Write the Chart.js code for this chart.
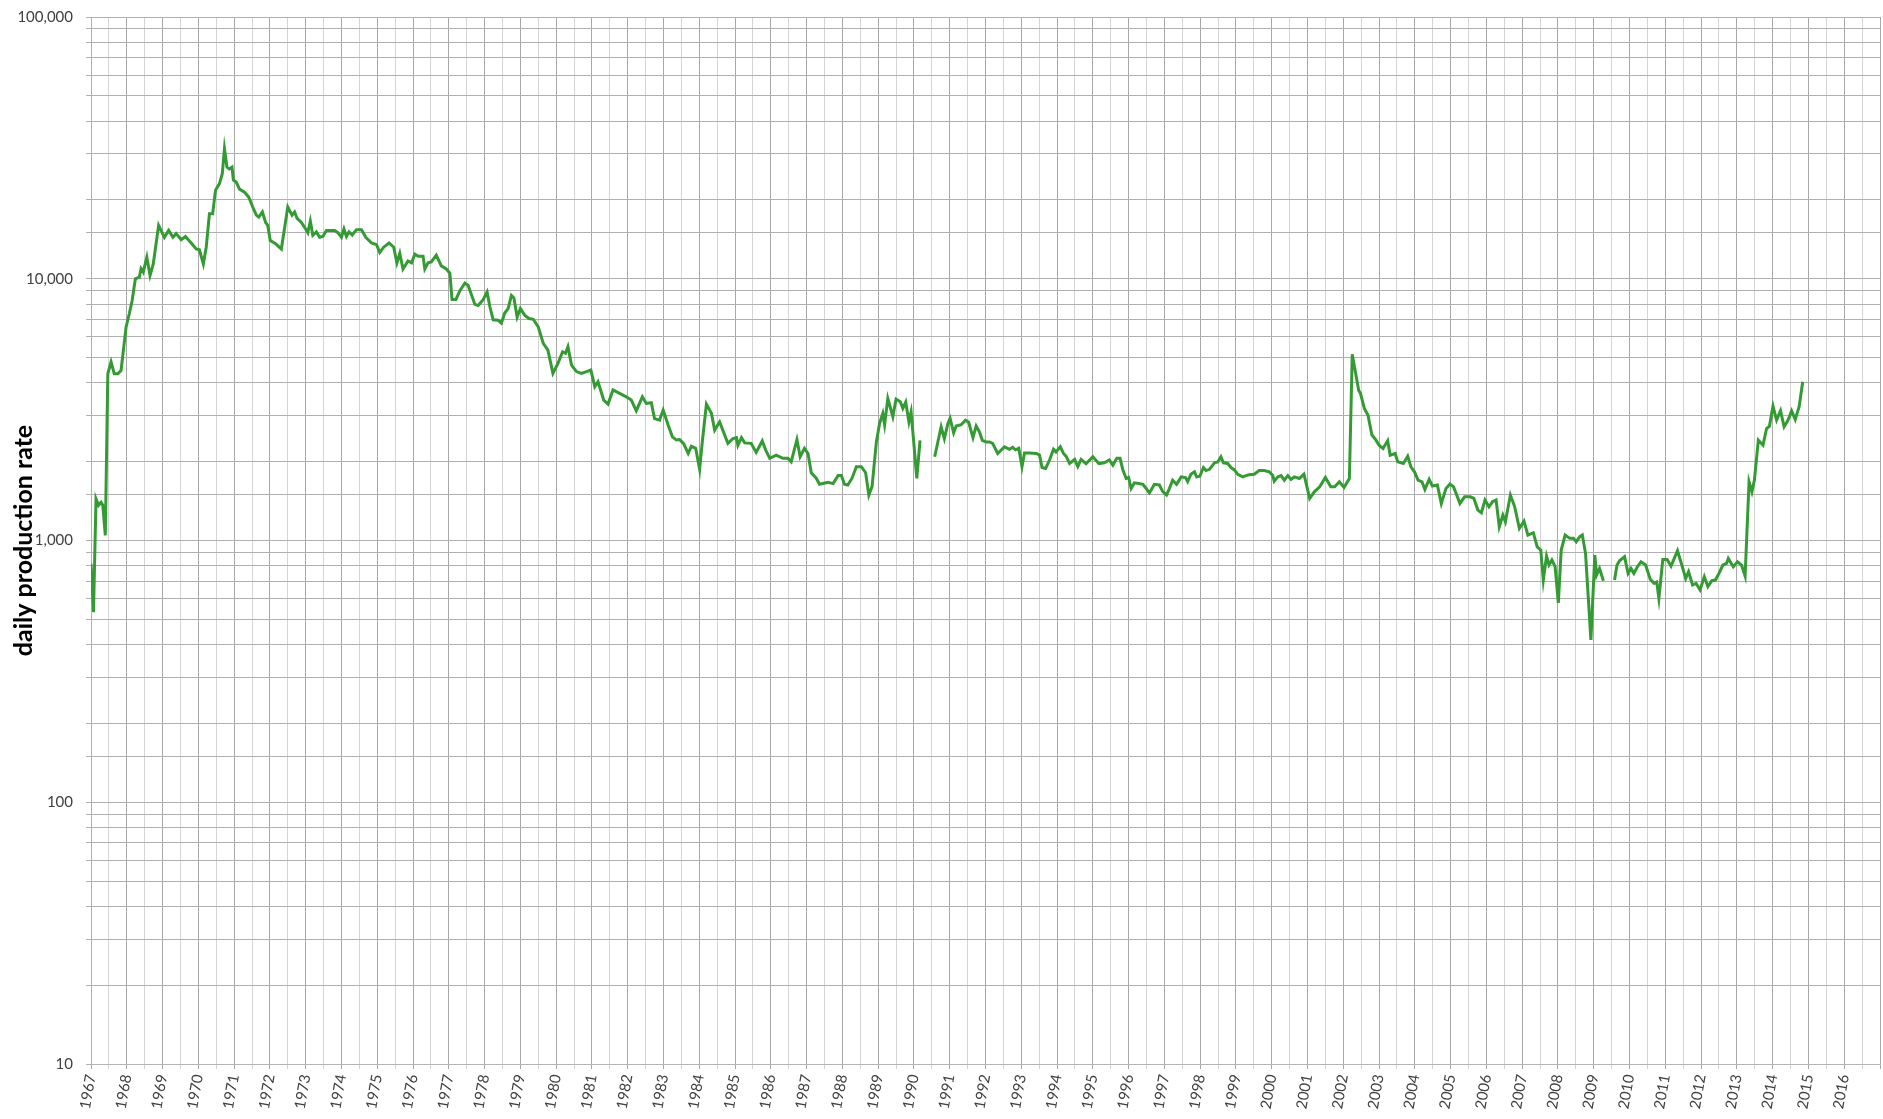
<!DOCTYPE html>
<html>
<head>
<meta charset="utf-8">
<script src="https://cdn.jsdelivr.net/npm/chart.js@4/dist/chart.umd.min.js"></script>
<style>
  html, body { margin: 0; padding: 0; background: #fff; }
  #prodChart { display: block; }
</style>
</head>
<body>
<canvas id="prodChart" width="1883" height="1119"></canvas>
<script>
// sample dates (decimal years) and daily production rate; null = break in the line
const years = [
  1967.00, 1967.07, 1967.14, 1967.21, 1967.28, 1967.33, 1967.40, 1967.47, 1967.56, 1967.65,
  1967.75, 1967.84, 1967.98, 1968.07, 1968.15, 1968.24, 1968.35, 1968.40, 1968.46, 1968.56,
  1968.65, 1968.74, 1968.89, 1969.05, 1969.17, 1969.29, 1969.38, 1969.52, 1969.64, 1969.80,
  1969.94, 1970.03, 1970.14, 1970.22, 1970.31, 1970.40, 1970.48, 1970.59, 1970.67, 1970.73,
  1970.80, 1970.87, 1970.94, 1970.98, 1971.06, 1971.15, 1971.29, 1971.41, 1971.52, 1971.62,
  1971.69, 1971.79, 1971.88, 1971.94, 1972.01, 1972.16, 1972.32, 1972.50, 1972.62, 1972.69,
  1972.76, 1972.88, 1973.00, 1973.06, 1973.13, 1973.20, 1973.30, 1973.39, 1973.48, 1973.58,
  1973.81, 1973.90, 1974.00, 1974.07, 1974.14, 1974.21, 1974.30, 1974.42, 1974.56, 1974.68,
  1974.84, 1974.98, 1975.07, 1975.18, 1975.33, 1975.46, 1975.55, 1975.63, 1975.72, 1975.86,
  1975.96, 1976.05, 1976.14, 1976.28, 1976.33, 1976.42, 1976.51, 1976.65, 1976.79, 1976.93,
  1977.03, 1977.09, 1977.20, 1977.31, 1977.45, 1977.54, 1977.73, 1977.82, 1977.96, 1978.07,
  1978.15, 1978.24, 1978.38, 1978.47, 1978.56, 1978.66, 1978.75, 1978.82, 1978.91,
  1979.00, 1979.12, 1979.24, 1979.36, 1979.50, 1979.64, 1979.77, 1979.91, 1980.05, 1980.18,
  1980.26, 1980.33, 1980.43, 1980.57, 1980.71, 1980.85, 1980.97, 1981.08, 1981.17, 1981.33,
  1981.45, 1981.59, 1981.96, 1982.10, 1982.24, 1982.41, 1982.52, 1982.66, 1982.75, 1982.89,
  1982.99, 1983.13, 1983.25, 1983.36, 1983.45, 1983.56, 1983.69, 1983.78, 1983.90, 1984.01,
  1984.09, 1984.20, 1984.34, 1984.43, 1984.57, 1984.80, 1984.94, 1985.04, 1985.08, 1985.18,
  1985.27, 1985.45, 1985.59, 1985.76, 1985.86, 1985.97, 1986.15, 1986.34, 1986.48, 1986.57,
  1986.73, 1986.82, 1986.94, 1987.04, 1987.13, 1987.27, 1987.36, 1987.60, 1987.74, 1987.88,
  1987.97, 1988.06, 1988.15, 1988.27, 1988.39, 1988.53, 1988.65, 1988.74, 1988.83, 1988.95,
  1989.04, 1989.13, 1989.18, 1989.27, 1989.41, 1989.50, 1989.62, 1989.69, 1989.77, 1989.86,
  1989.92, 1989.99, 1990.08, 1990.17, 1990.37,
  1990.58, 1990.76, 1990.85, 1990.95, 1991.01, 1991.11, 1991.18, 1991.32, 1991.44, 1991.53,
  1991.65, 1991.74, 1991.83, 1991.91, 1992.02, 1992.11, 1992.20, 1992.34, 1992.53, 1992.67,
  1992.76, 1992.84, 1992.93, 1993.02, 1993.09, 1993.23, 1993.42, 1993.51, 1993.58, 1993.68,
  1993.79, 1993.90, 1993.97, 1994.09, 1994.18, 1994.25, 1994.35, 1994.49, 1994.58, 1994.67,
  1994.81, 1995.00, 1995.17, 1995.32, 1995.46, 1995.56, 1995.67, 1995.76, 1995.84, 1995.93,
  1996.00, 1996.07, 1996.16, 1996.28, 1996.40, 1996.49, 1996.58, 1996.63, 1996.72, 1996.86,
  1996.95, 1997.06, 1997.14, 1997.23, 1997.34, 1997.47, 1997.59, 1997.65, 1997.74, 1997.84,
  1997.90, 1997.99, 1998.09, 1998.16, 1998.26, 1998.40, 1998.49, 1998.58, 1998.65, 1998.77,
  1998.86, 1998.95, 1999.05, 1999.19, 1999.28, 1999.37, 1999.51, 1999.65, 1999.79, 1999.93,
  2000.03, 2000.07, 2000.17, 2000.26, 2000.35, 2000.45, 2000.54, 2000.63, 2000.77,
  2000.90, 2001.06, 2001.19, 2001.34, 2001.50, 2001.65, 2001.76, 2001.89, 2002.02, 2002.17,
  2002.25, 2002.43, 2002.48, 2002.59, 2002.69, 2002.80, 2002.90, 2003.00, 2003.11, 2003.24,
  2003.31, 2003.45, 2003.52, 2003.68, 2003.80, 2003.89, 2003.99, 2004.09, 2004.20, 2004.28,
  2004.40, 2004.49, 2004.63, 2004.74, 2004.87, 2004.98, 2005.08, 2005.26, 2005.39, 2005.55,
  2005.65, 2005.76, 2005.86, 2005.96, 2006.07, 2006.17, 2006.27, 2006.36, 2006.46, 2006.53,
  2006.67, 2006.79, 2006.92, 2007.05, 2007.16, 2007.31, 2007.42, 2007.52, 2007.59, 2007.68,
  2007.75, 2007.83, 2007.92, 2008.01, 2008.09, 2008.20, 2008.33, 2008.43, 2008.51, 2008.61,
  2008.68, 2008.77, 2008.92, 2009.03, 2009.08, 2009.16, 2009.27, 2009.42,
  2009.58, 2009.65, 2009.72, 2009.86, 2009.96, 2010.04, 2010.12, 2010.22, 2010.32, 2010.45,
  2010.58, 2010.69, 2010.76, 2010.82, 2010.93, 2011.05, 2011.16, 2011.34, 2011.49, 2011.57,
  2011.65, 2011.76, 2011.86, 2011.97, 2012.09, 2012.19, 2012.30, 2012.40, 2012.50, 2012.61,
  2012.71, 2012.76, 2012.90, 2013.02, 2013.13, 2013.23, 2013.34, 2013.42, 2013.49, 2013.60,
  2013.73, 2013.83, 2013.91, 2014.01, 2014.11, 2014.22, 2014.32, 2014.43, 2014.53, 2014.63,
  2014.74, 2014.84
];

const dailyRate = [
  815, 532, 1443, 1363, 1400, 1363, 1045, 4335, 4810, 4335,
  4335, 4460, 6530, 7350, 8260, 10000, 10150, 10920, 10600, 12100,
  10300, 11400, 16000, 14400, 15300, 14400, 14870, 14100, 14500, 13700,
  13000, 12900, 11400, 13200, 17700, 17700, 21800, 23100, 25200, 31400,
  26700, 26300, 26700, 23800, 23400, 22000, 21400, 20500, 18800, 17500,
  17200, 18000, 16400, 16000, 14000, 13600, 13000, 18800, 17500, 18000,
  17000, 16400, 15500, 15000, 16600, 14650, 15100, 14400, 14500, 15300,
  15300, 15000, 14400, 15500, 14500, 15100, 14700, 15400, 15400, 14400,
  13700, 13500, 12600, 13200, 13700, 13200, 11500, 12500, 10900, 11700,
  11500, 12400, 12200, 12200, 10900, 11500, 11600, 12300, 11200, 10900,
  10500, 8340, 8340, 9000, 9630, 9430, 7980, 7900, 8320, 8890,
  7800, 6970, 6940, 6770, 7380, 7700, 8640, 8450, 7140,
  7690, 7260, 7050, 7000, 6550, 5660, 5340, 4350, 4750, 5260,
  5190, 5500, 4680, 4420, 4350, 4420, 4480, 3870, 4040, 3440,
  3320, 3760, 3540, 3440, 3130, 3540, 3340, 3360, 2920, 2880,
  3150, 2760, 2490, 2420, 2430, 2350, 2150, 2290, 2250, 1870,
  2420, 3320, 3060, 2640, 2840, 2350, 2450, 2470, 2310, 2470,
  2360, 2350, 2170, 2400, 2210, 2060, 2120, 2060, 2060, 2000,
  2430, 2090, 2250, 2150, 1815, 1730, 1640, 1670, 1650, 1770,
  1770, 1640, 1630, 1730, 1915, 1915, 1815, 1490, 1610, 2380,
  2800, 3056, 2770, 3490, 2970, 3470, 3390, 3200, 3380, 2840,
  3100, 2415, 1726, 2415, null,
  2090, 2720, 2450, 2800, 2930, 2580, 2740, 2770, 2880, 2830,
  2470, 2740, 2600, 2415, 2380, 2380, 2350, 2150, 2280, 2230,
  2270, 2220, 2250, 1915, 2160, 2160, 2150, 2120, 1900, 1885,
  2030, 2230, 2180, 2280, 2150, 2100, 1970, 2040, 1915, 2040,
  1965, 2090, 1965, 1980, 2030, 1940, 2060, 2060, 1860, 1726,
  1740, 1580, 1660, 1650, 1640, 1580, 1520, 1560, 1640, 1630,
  1540, 1493, 1580, 1700, 1640, 1750, 1740, 1680, 1790, 1830,
  1750, 1760, 1900, 1850, 1870, 1980, 1995, 2090, 1980, 1970,
  1900, 1865, 1790, 1750, 1770, 1785, 1790, 1850, 1850, 1830,
  1770, 1685, 1750, 1770, 1700, 1770, 1710, 1750, 1725,
  1793, 1448, 1535, 1604, 1742, 1604, 1604, 1676, 1595, 1726,
  5150, 3750, 3650, 3190, 3013, 2530, 2433, 2313, 2247, 2404,
  2118, 2150, 2000, 1970, 2101, 1913, 1830, 1701, 1676, 1567,
  1712, 1614, 1628, 1385, 1581, 1643, 1604, 1385, 1469, 1469,
  1448, 1307, 1277, 1427, 1345, 1406, 1427, 1128, 1250, 1179,
  1491, 1345, 1112, 1186, 1049, 1071, 946, 919, 706, 872,
  806, 842, 794, 578, 919, 1049, 1019, 1019, 989, 1034,
  1049, 893, 417, 880, 738, 782, 702, null,
  706, 806, 837, 867, 749, 782, 749, 794, 829, 806,
  710, 686, 694, 601, 847, 847, 798, 914, 782, 716,
  760, 676, 686, 647, 727, 666, 702, 706, 749, 806,
  817, 854, 794, 829, 806, 731, 1676, 1535, 1701, 2418,
  2313, 2679, 2735, 3262, 2884, 3131, 2720, 2884, 3131, 2898,
  3243, 4041
];

// axis settings
const yearMin = 1967;
const yearMax = 2017;
const rateMin = 10;
const rateMax = 100000;

const FONT = 'Lato, "Open Sans", "DejaVu Sans", sans-serif';

const points = years.map(function (yr, i) {
    return { x: yr, y: dailyRate[i] };
});

const ctx = document.getElementById('prodChart');

new Chart(ctx, {
    type: 'line',
    data: {
        datasets: [{
            label: 'daily production rate',
            data: points,
            borderColor: '#349a34',
            borderWidth: 3,
            pointRadius: 0,
            tension: 0,
            spanGaps: false,
            fill: false
        }]
    },
    options: {
        responsive: false,
        animation: false,
        devicePixelRatio: 1,
        layout: { padding: { top: 17, right: 3, left: 0, bottom: 0 } },
        plugins: { legend: { display: false }, tooltip: { enabled: false } },
        scales: {
            x: {
                type: 'linear',
                min: yearMin,
                max: yearMax,
                afterFit: function (s) {
                    s.height = 55;
                    s.paddingRight = 0;   // no label at 2017, so no room needed past it
                },
                grid: {
                    color: function (c) {
                        if (!c.tick) return '#d4d4d4';
                        return Number.isInteger(c.tick.value) ? '#a8a8a8' : '#d4d4d4';
                    },
                    lineWidth: 1,
                    tickLength: 5
                },
                border: { color: '#b4b4b4' },
                ticks: {
                    stepSize: 0.5,
                    maxTicksLimit: 200,
                    autoSkip: false,
                    minRotation: 80,
                    maxRotation: 80,
                    padding: 4,
                    color: '#404040',
                    font: { family: FONT, size: 15 },
                    callback: function (v) {
                        return (Number.isInteger(v) && v < yearMax) ? String(v) : '';
                    }
                }
            },
            y: {
                type: 'logarithmic',
                min: rateMin,
                max: rateMax,
                afterFit: function (s) {
                    s.width = 91;
                    s.paddingTop = 0;     // layout padding alone sets the top edge
                    s.paddingBottom = 0;
                },
                grid: { color: '#b0b0b0', lineWidth: 1, tickLength: 5 },
                border: { color: '#b0b0b0' },
                ticks: {
                    autoSkip: false,
                    padding: 13,
                    color: '#404040',
                    font: { family: FONT, size: 15 },
                    callback: function (v) {
                        const p = Math.log10(v);
                        if (Math.abs(p - Math.round(p)) < 1e-9) {
                            return Number(v).toLocaleString('en-US');
                        }
                        return '';
                    }
                },
                title: {
                    display: true,
                    text: 'daily production rate',
                    color: '#000000',
                    padding: { top: 9, bottom: 0 },
                    font: { family: FONT, size: 25, weight: 'bold' }
                }
            }
        }
    }
});
</script>
</body>
</html>
